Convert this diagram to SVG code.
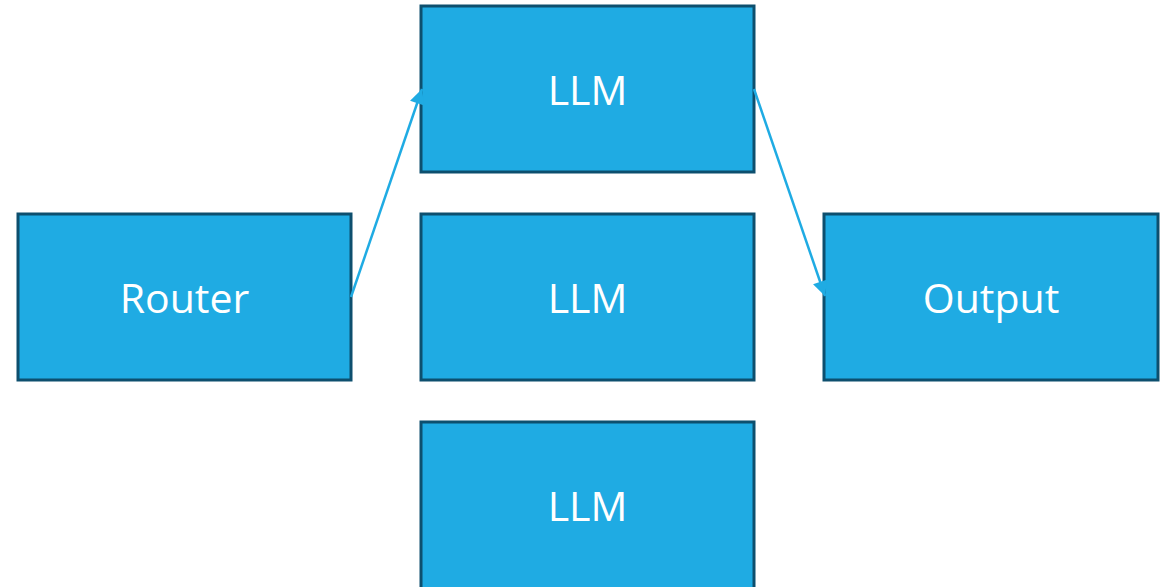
<svg xmlns="http://www.w3.org/2000/svg" width="1173" height="587" viewBox="0 0 1173 587">
<style>
.box{fill:#1fabe3;stroke:#0d4f6e;stroke-width:3}
.lbl{fill:#ffffff;font-family:"Open Sans","Noto Sans",sans-serif;font-size:41px;text-anchor:middle}
.conn{stroke:#1fabe3;stroke-width:2.5;fill:none}
</style>
<defs>
<marker id="ah" viewBox="0 0 10 10" refX="10" refY="5" markerWidth="16" markerHeight="15" orient="auto" markerUnits="userSpaceOnUse">
<path d="M0,0 L10,5 L0,10 z" fill="#1fabe3"/>
</marker>
</defs>
<rect width="1173" height="587" fill="#ffffff"/>
<g id="router"><rect class="box" x="18" y="214" width="333" height="166"/><text class="lbl" x="184.5" y="313">Router</text></g>
<g id="llm1"><rect class="box" x="421" y="6" width="333" height="166"/><text class="lbl" x="587.5" y="105">LLM</text></g>
<g id="llm2"><rect class="box" x="421" y="214" width="333" height="166"/><text class="lbl" x="587.5" y="313">LLM</text></g>
<g id="llm3"><rect class="box" x="421" y="422" width="333" height="180"/><text class="lbl" x="587.5" y="521">LLM</text></g>
<g id="output"><rect class="box" x="824" y="214" width="334" height="166"/><text class="lbl" x="991" y="313">Output</text></g>
<g id="connectors">
<line class="conn" x1="351" y1="297" x2="422" y2="89" marker-end="url(#ah)"/>
<line class="conn" x1="754" y1="89" x2="825" y2="296" marker-end="url(#ah)"/>
</g>
</svg>
